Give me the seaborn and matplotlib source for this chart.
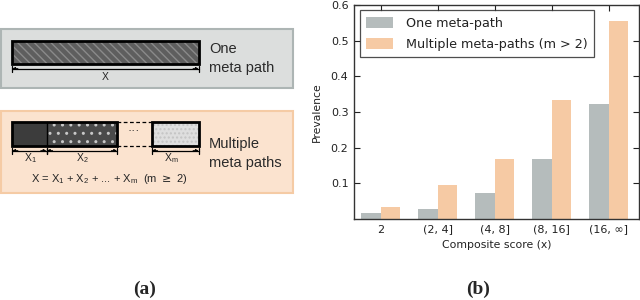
import matplotlib
matplotlib.use("Agg")
import matplotlib.pyplot as plt
import matplotlib.patches as mpatches
import seaborn as sns
import pandas as pd

# ---- data ----
categories = ["2", "(2, 4]", "(4, 8]", "(8, 16]", "(16, \u221e]"]
one_meta_path = [0.017, 0.028, 0.073, 0.167, 0.322]
multi_meta_paths = [0.034, 0.095, 0.169, 0.335, 0.555]
series_names = ["One meta-path", "Multiple meta-paths (m > 2)"]
y_ticks = [0.1, 0.2, 0.3, 0.4, 0.5, 0.6]

df = pd.DataFrame({
    "cat": categories * 2,
    "val": one_meta_path + multi_meta_paths,
    "series": [series_names[0]] * len(categories) + [series_names[1]] * len(categories),
})

sns.set_style("ticks")
plt.rcParams["font.family"] = ["DejaVu Sans"]

W, H = 640, 300
fig = plt.figure(figsize=(W / 100, H / 100), dpi=100)

# ---------------- panel (a): schematic in pixel coordinates ----------------
axd = fig.add_axes([0, 0, 1, 1])
axd.set_xlim(0, W)
axd.set_ylim(H, 0)
axd.axis("off")

sansA = ["Liberation Sans", "DejaVu Sans"]

def rect(x0, y0, x1, y1, **kw):
    p = mpatches.Rectangle((x0, y0), x1 - x0, y1 - y0, **kw)
    axd.add_patch(p)
    return p

def dim(x0, x1, y):
    axd.plot([x0, x1], [y, y], color="black", lw=0.9)
    for xx in (x0, x1):
        axd.plot([xx, xx], [y - 3, y + 3], color="black", lw=0.9)
    axd.annotate("", xy=(x0 + 0.5, y), xytext=(x0 + 6, y),
                 arrowprops=dict(arrowstyle="-|>", lw=0.6, color="black",
                                 shrinkA=0, shrinkB=0, mutation_scale=4))
    axd.annotate("", xy=(x1 - 0.5, y), xytext=(x1 - 6, y),
                 arrowprops=dict(arrowstyle="-|>", lw=0.6, color="black",
                                 shrinkA=0, shrinkB=0, mutation_scale=4))

# top gray box
rect(0.5, 29, 292.5, 88, facecolor="#dcdedd", edgecolor="#adb5b4", lw=1.5)
rect(12, 41, 199, 64, facecolor="#5e5e5e", edgecolor="#8a8a8a", lw=0, hatch="\\\\\\\\")
rect(12, 41, 199, 64, facecolor="none", edgecolor="black", lw=2)
dim(12, 199, 68.5)
axd.text(105, 77.5, "X", fontsize=7.5, family=sansA, ha="center", va="center")
axd.text(209, 49, "One", fontsize=10.5, family=sansA, ha="left", va="center", color="#2a2a2a")
axd.text(209, 68, "meta path", fontsize=10.5, family=sansA, ha="left", va="center", color="#2a2a2a")

# bottom orange box
rect(0.5, 111, 292.5, 193, facecolor="#fbe3cf", edgecolor="#f5cba5", lw=1.5)
rect(12, 122, 46.7, 146, facecolor="#3c3c3c", edgecolor="none")
rect(46.7, 122, 117.3, 146, facecolor="#4a4a4a", edgecolor="#c8c8c8", lw=0, hatch="..")
rect(151.7, 122, 199, 146, facecolor="#dedede", edgecolor="#c4c4c4", lw=0, hatch="....")
rect(12, 122, 117.3, 146, facecolor="none", edgecolor="black", lw=2)
axd.plot([46.7, 46.7], [122, 146], color="black", lw=1)
rect(151.7, 122, 199, 146, facecolor="none", edgecolor="black", lw=2)
axd.plot([117.3, 151.7], [122, 122], color="black", lw=0.9, ls=(0, (3, 2)))
axd.plot([117.3, 151.7], [146, 146], color="black", lw=0.9, ls=(0, (3, 2)))
axd.text(134, 131, "\u00b7\u00b7\u00b7", fontsize=9, family=sansA, ha="center", va="center")
dim(12, 46.7, 150.5)
dim(46.7, 117.3, 150.5)
dim(151.7, 199, 150.5)
axd.text(30, 158, r"X$_{\mathregular{1}}$", fontsize=7.5, family=sansA, ha="center", va="center")
axd.text(82, 158, r"X$_{\mathregular{2}}$", fontsize=7.5, family=sansA, ha="center", va="center")
axd.text(171, 158, r"X$_{\mathregular{m}}$", fontsize=7.5, family=sansA, ha="center", va="center")
axd.text(109, 179,
         r"X = X$_{\mathregular{1}}$ + X$_{\mathregular{2}}$ + ... + X$_{\mathregular{m}}$  (m $\geq$ 2)",
         fontsize=8, family=sansA, ha="center", va="center")
axd.text(209, 144, "Multiple", fontsize=10.5, family=sansA, ha="left", va="center", color="#2a2a2a")
axd.text(209, 163, "meta paths", fontsize=10.5, family=sansA, ha="left", va="center", color="#2a2a2a")

serif = ["Liberation Serif", "DejaVu Serif"]
axd.text(145, 289, "(a)", fontsize=14, fontweight="bold", family=serif, ha="center", va="center")
axd.text(478, 289, "(b)", fontsize=14, fontweight="bold", family=serif, ha="center", va="center")

# ---------------- panel (b): bar chart ----------------
left, right, top, bottom = 354, 639, 5, 219
ax = fig.add_axes([left / W, 1 - bottom / H, (right - left) / W, (bottom - top) / H])
sns.barplot(data=df, x="cat", y="val", hue="series", order=categories,
            hue_order=series_names, palette=["#b5bcbc", "#f6caa4"],
            saturation=1, width=0.68, gap=0, ax=ax, edgecolor="none")
ax.set_xlim(-0.47, 4.53)
ax.set_ylim(0, 0.6)
ax.set_yticks(y_ticks)
ax.set_yticklabels([f"{t:.1f}" for t in y_ticks])
ax.tick_params(direction="in", top=True, right=True, labelsize=8, length=4,
               width=0.8, colors="#222222", pad=4)
for s in ax.spines.values():
    s.set_visible(True)
    s.set_color("#333333")
    s.set_linewidth(1.0)
ax.set_xlabel("Composite score (x)", fontsize=7.8, color="#222222", labelpad=4)
ax.set_ylabel("Prevalence", fontsize=7.8, color="#222222", labelpad=6)
leg = ax.legend(loc="upper left", bbox_to_anchor=(0.02, 0.975), frameon=True,
                fancybox=False, edgecolor="#222222", fontsize=9.2,
                handlelength=2.1, handleheight=1.0, borderpad=0.5,
                labelspacing=0.6, handletextpad=1.0, borderaxespad=0)
leg.get_frame().set_linewidth(0.9)
for t in leg.get_texts():
    t.set_color("#222222")

fig.savefig("out.png", dpi=100)
